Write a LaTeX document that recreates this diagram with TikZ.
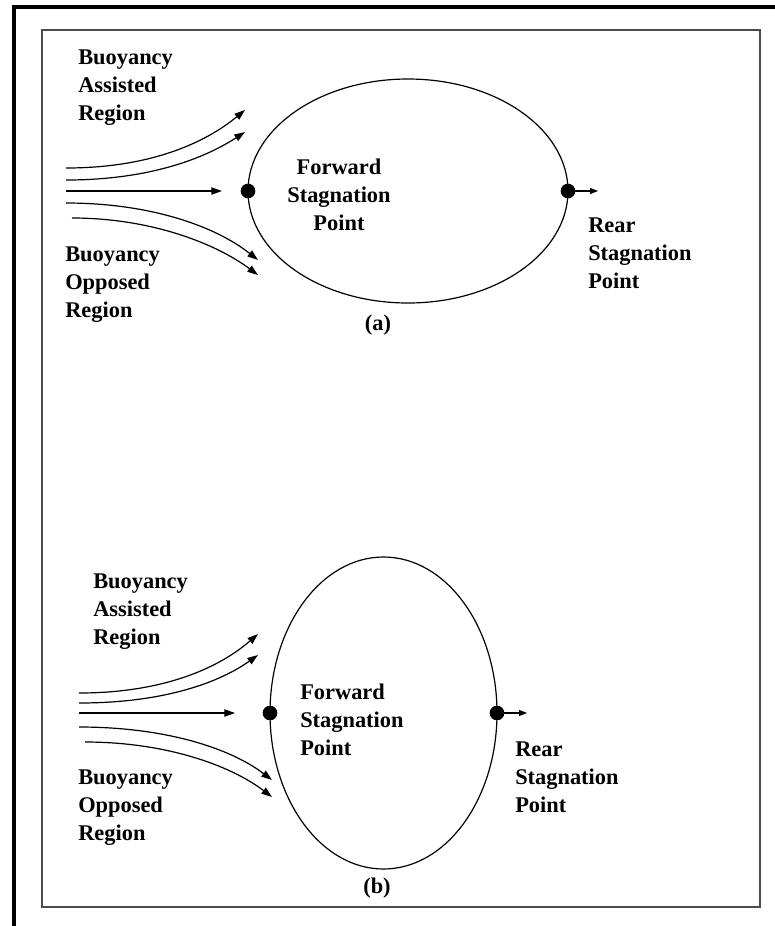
\documentclass[tikz,border=0pt]{standalone}
\usepackage{fontspec}
\setmainfont{Liberation Serif}
\usetikzlibrary{arrows.meta,shapes.geometric}
\begin{document}
\begin{tikzpicture}[x=0.75pt,y=-0.75pt,
  lbl/.style={font=\bfseries\fontsize{16.8}{21}\selectfont, inner sep=0pt, align=left, anchor=west},
  clbl/.style={font=\bfseries\fontsize{16.8}{21}\selectfont, inner sep=0pt, align=center},
  flow/.style={line width=0.9pt, -{Triangle[length=8pt,width=5.5pt]}},
  rearflow/.style={line width=0.9pt, -{Triangle[length=6pt,width=4.5pt]}},
  body/.style={draw, ellipse, line width=0.9pt, inner sep=0pt, outer sep=0pt},
  spt/.style={circle, fill=black, inner sep=0pt, minimum size=11pt}]
\useasboundingbox (0,0) rectangle (775,926);
% frames
\draw[line width=3pt] (14,926) -- (14,7) -- (775,7);
\draw[black!70, line width=1.6pt] (42,30) rectangle (760,907);

% ---------------- panel (a)
\node[body, minimum width=240pt, minimum height=168pt] (ellA) at (408,191) {};
\node[spt] (fA) at (ellA.west) {};
\node[spt] (rA) at (ellA.east) {};
\coordinate (rAend) at (598,191);
\draw[rearflow] (rA.center) -- (rAend);

\coordinate (a1s) at (66,168);  \coordinate (a1e) at (245,110);
\coordinate (a2s) at (66,180);  \coordinate (a2e) at (245,132);
\coordinate (a3s) at (66,191);  \coordinate (a3e) at (222,191);
\coordinate (a4s) at (66,203);  \coordinate (a4e) at (258,260);
\coordinate (a5s) at (72,218);  \coordinate (a5e) at (258,275);
\draw[flow] (a1s) .. controls (150,168) and (205,143) .. (a1e);
\draw[flow] (a2s) .. controls (150,180) and (205,158) .. (a2e);
\draw[flow] (a3s) -- (a3e);
\draw[flow] (a4s) .. controls (150,203) and (215,226) .. (a4e);
\draw[flow] (a5s) .. controls (150,218) and (215,243) .. (a5e);

\node[lbl] (assistA) at (78,88) {Buoyancy\\Assisted\\Region};
\node[lbl] (opposA) at (65,285) {Buoyancy\\Opposed\\Region};
\node[clbl] (fwdA) at (339,195) {Forward\\Stagnation\\Point};
\node[lbl] (rearA) at (588,253) {Rear\\Stagnation\\Point};
\node[clbl] (capA) at (378,325) {(a)};

% ---------------- panel (b)
\node[body, minimum width=170.25pt, minimum height=234pt] (ellB) at (383.5,713) {};
\node[spt] (fB) at (ellB.west) {};
\node[spt] (rB) at (ellB.east) {};
\coordinate (rBend) at (527,713);
\draw[rearflow] (rB.center) -- (rBend);

\coordinate (b1s) at (79,693);  \coordinate (b1e) at (258,634);
\coordinate (b2s) at (79,703);  \coordinate (b2e) at (258,655);
\coordinate (b3s) at (79,713);  \coordinate (b3e) at (235,713);
\coordinate (b4s) at (79,727);  \coordinate (b4e) at (272,780);
\coordinate (b5s) at (85,742);  \coordinate (b5e) at (272,797);
\draw[flow] (b1s) .. controls (165,693) and (220,667) .. (b1e);
\draw[flow] (b2s) .. controls (165,703) and (220,682) .. (b2e);
\draw[flow] (b3s) -- (b3e);
\draw[flow] (b4s) .. controls (165,727) and (230,748) .. (b4e);
\draw[flow] (b5s) .. controls (165,742) and (230,765) .. (b5e);

\node[lbl] (assistB) at (93,612) {Buoyancy\\Assisted\\Region};
\node[lbl] (opposB) at (78,808) {Buoyancy\\Opposed\\Region};
\node[lbl] (fwdB) at (300,720) {Forward\\Stagnation\\Point};
\node[lbl] (rearB) at (515,777) {Rear\\Stagnation\\Point};
\node[clbl] (capB) at (377,888) {(b)};
\end{tikzpicture}
\end{document}
